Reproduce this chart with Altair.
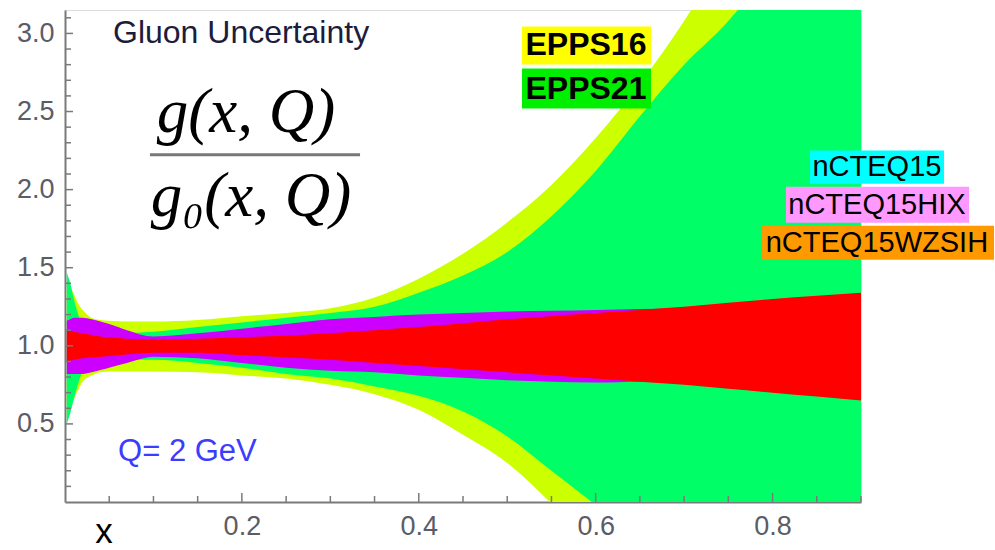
import altair as alt
import pandas as pd

# ---------------- data ----------------
x_grid = [0.002, 0.006, 0.01, 0.015, 0.02, 0.03, 0.04, 0.05, 0.07, 0.1, 0.15, 0.2, 0.25,
          0.3, 0.35, 0.4, 0.45, 0.5, 0.55, 0.6, 0.65, 0.7, 0.75, 0.8, 0.85, 0.9]

epps16_hi = [1.36, 1.37, 1.33, 1.27, 1.23, 1.18, 1.165, 1.16, 1.155, 1.155, 1.165, 1.19, 1.21,
             1.24, 1.31, 1.43, 1.59, 1.79, 2.03, 2.33, 2.68, 3.08, 3.55, 4.1, 4.7, 5.3]
epps16_lo = [0.56, 0.60, 0.66, 0.72, 0.77, 0.81, 0.83, 0.835, 0.835, 0.835, 0.83, 0.81, 0.79,
             0.75, 0.69, 0.59, 0.43, 0.25, -0.01, -0.3, -0.6, -0.9, -1.2, -1.5, -1.8, -2.1]

epps21_hi = [1.47, 1.40, 1.30, 1.20, 1.13, 1.08, 1.07, 1.07, 1.08, 1.09, 1.12, 1.15, 1.18,
             1.21, 1.25, 1.34, 1.45, 1.60, 1.83, 2.12, 2.47, 2.80, 3.08, 3.45, 4.0, 4.5]
epps21_lo = [0.50, 0.57, 0.66, 0.76, 0.84, 0.89, 0.90, 0.905, 0.91, 0.91, 0.89, 0.86, 0.82,
             0.79, 0.74, 0.68, 0.58, 0.42, 0.20, -0.02, -0.25, -0.5, -0.8, -1.1, -1.4, -1.7]

hix_hi = [1.16, 1.17, 1.18, 1.18, 1.18, 1.17, 1.155, 1.14, 1.10, 1.06, 1.08, 1.11, 1.14,
          1.17, 1.185, 1.20, 1.21, 1.22, 1.225, 1.23, 1.235, 1.24, 1.25, 1.27, 1.28, 1.30]
hix_lo = [0.82, 0.82, 0.82, 0.82, 0.82, 0.83, 0.845, 0.86, 0.89, 0.93, 0.92, 0.89, 0.86,
          0.84, 0.83, 0.81, 0.795, 0.78, 0.77, 0.765, 0.77, 0.76, 0.73, 0.71, 0.69, 0.67]

wz_hi = [1.10, 1.095, 1.09, 1.085, 1.08, 1.07, 1.06, 1.055, 1.045, 1.04, 1.045, 1.055, 1.065,
         1.08, 1.10, 1.12, 1.145, 1.17, 1.19, 1.21, 1.23, 1.25, 1.275, 1.30, 1.32, 1.34]
wz_lo = [0.90, 0.905, 0.91, 0.915, 0.92, 0.925, 0.93, 0.935, 0.945, 0.955, 0.955, 0.94, 0.925,
         0.91, 0.89, 0.87, 0.85, 0.83, 0.81, 0.79, 0.77, 0.75, 0.725, 0.70, 0.675, 0.65]

band_names = ["EPPS16", "EPPS21", "nCTEQ15HIX", "nCTEQ15WZSIH"]
band_colors = ["#ccff00", "#00ff66", "#cc00ff", "#ff0000"]
band_hi = [epps16_hi, epps21_hi, hix_hi, wz_hi]
band_lo = [epps16_lo, epps21_lo, hix_lo, wz_lo]

x_major = [0.2, 0.4, 0.6, 0.8]
x_minor = [0.05, 0.1, 0.15, 0.25, 0.3, 0.35, 0.45, 0.5, 0.55, 0.65, 0.7, 0.75, 0.85, 0.9]
y_major = [0.5, 1.0, 1.5, 2.0, 2.5, 3.0]
y_minor = [0.1, 0.2, 0.3, 0.4, 0.6, 0.7, 0.8, 0.9, 1.1, 1.2, 1.3, 1.4, 1.6, 1.7, 1.8, 1.9,
           2.1, 2.2, 2.3, 2.4, 2.6, 2.7, 2.8, 2.9, 3.1]

# legend labels with coloured boxes
leg_text = ["EPPS16", "EPPS21", "nCTEQ15", "nCTEQ15HIX", "nCTEQ15WZSIH"]
leg_bg = ["#ffff00", "#00ee00", "#00ffff", "#ff99ff", "#ff9900"]
leg_bold = ["bold", "bold", "normal", "normal", "normal"]
leg_xc = [0.589, 0.589, 0.918, 0.918, 0.918]
leg_yc = [2.923, 2.647, 2.144, 1.904, 1.660]
leg_x1 = [0.5167, 0.5167, 0.8424, 0.8152, 0.7881]
leg_x2 = [0.6626, 0.6626, 0.9939, 1.0222, 1.0504]
leg_y1 = [3.045, 2.776, 2.250, 2.019, 1.769]
leg_y2 = [2.801, 2.519, 2.038, 1.788, 1.551]

W, H = 796, 492
AX = "#7a7a7a"
XS = alt.Scale(domain=[0, 0.9], nice=False, zero=False)
YS = alt.Scale(domain=[0, 3.15], nice=False, zero=False)

x_axis = alt.Axis(values=x_major, format=".1f", ticks=False, grid=False, title=None,
                  labelFontSize=27, labelColor="#5c5c66", labelFont="Liberation Sans",
                  labelPadding=11, domainColor=AX, domainWidth=2, labelFlush=False)
y_axis = alt.Axis(values=y_major, format=".1f", ticks=False, grid=False, title=None,
                  labelFontSize=27, labelColor="#5c5c66", labelFont="Liberation Sans",
                  labelPadding=11, domainColor=AX, domainWidth=2, labelFlush=False)


def X(f):
    return alt.X(f, scale=XS, axis=x_axis)


def Y(f):
    return alt.Y(f, scale=YS, axis=y_axis)


layers = []
for i, (name, col) in enumerate(zip(band_names, band_colors)):
    df = pd.DataFrame({"x": x_grid, "lo": band_lo[i], "hi": band_hi[i]})
    layers.append(
        alt.Chart(df).mark_area(color=col, clip=True, interpolate="monotone", opacity=1).encode(
            x=X("x:Q"), y=Y("hi:Q"), y2="lo:Q",
        )
    )

# inward ticks
ym = pd.DataFrame({"v": y_major})
yn = pd.DataFrame({"v": y_minor})
xm = pd.DataFrame({"v": x_major})
xn = pd.DataFrame({"v": x_minor})
layers.append(alt.Chart(ym).mark_rule(color=AX, strokeWidth=1.5).encode(
    y=Y("v:Q"), x=alt.value(0), x2=alt.value(8)))
layers.append(alt.Chart(yn).mark_rule(color=AX, strokeWidth=1.5).encode(
    y=Y("v:Q"), x=alt.value(0), x2=alt.value(6)))
layers.append(alt.Chart(xm).mark_rule(color=AX, strokeWidth=1.5).encode(
    x=X("v:Q"), y=alt.value(H), y2=alt.value(H - 9)))
layers.append(alt.Chart(xn).mark_rule(color=AX, strokeWidth=1.5).encode(
    x=X("v:Q"), y=alt.value(H), y2=alt.value(H - 6)))

# legend boxes + text
leg = pd.DataFrame({"t": leg_text, "bg": leg_bg, "w": leg_bold, "xc": leg_xc, "yc": leg_yc,
                    "x1": leg_x1, "x2": leg_x2, "y1": leg_y1, "y2": leg_y2})
layers.append(alt.Chart(leg).mark_rect().encode(
    x=X("x1:Q"), x2="x2:Q", y=Y("y1:Q"), y2="y2:Q",
    color=alt.Color("bg:N", scale=None)))
layers.append(alt.Chart(leg[leg.w == "bold"]).mark_text(
    font="Liberation Sans", fontSize=32, fontWeight="bold", color="black",
    align="center", baseline="middle").encode(x=X("xc:Q"), y=Y("yc:Q"), text="t:N"))
layers.append(alt.Chart(leg[leg.w == "normal"]).mark_text(
    font="Liberation Sans", fontSize=29, color="black",
    align="center", baseline="middle").encode(x=X("xc:Q"), y=Y("yc:Q"), text="t:N"))

# other annotations
ann = pd.DataFrame({
    "t": ["Gluon Uncertainty", "Q= 2 GeV"],
    "x": [0.0543, 0.060], "y": [3.0, 0.32],
    "c": ["#1c1c3c", "#3c3cff"],
    "s": [32, 31],
})
layers.append(alt.Chart(ann).mark_text(font="Liberation Sans", align="left",
                                       baseline="middle").encode(
    x=X("x:Q"), y=Y("y:Q"), text="t:N", color=alt.Color("c:N", scale=None),
    size=alt.Size("s:Q", scale=None)))

frac = pd.DataFrame({"t": ["g(x, Q)", "g\u2080(x, Q)"], "x": [0.2047, 0.2103], "y": [2.49, 1.955]})
layers.append(alt.Chart(frac).mark_text(font="Liberation Serif", fontSize=63, fontStyle="italic",
                                        color="black", align="center", baseline="middle").encode(
    x=X("x:Q"), y=Y("y:Q"), text="t:N"))
bar = pd.DataFrame({"x1": [0.0961], "x2": [0.3336], "y": [2.224]})
layers.append(alt.Chart(bar).mark_rule(color="#777777", strokeWidth=3).encode(
    x=X("x1:Q"), x2="x2:Q", y=Y("y:Q")))

xl = pd.DataFrame({"t": ["x"], "x": [0.044], "y": [-0.195]})
layers.append(alt.Chart(xl).mark_text(font="Liberation Sans", fontSize=35, color="black",
                                      align="center", baseline="middle").encode(
    x=X("x:Q"), y=Y("y:Q"), text="t:N"))

chart = alt.layer(*layers).properties(
    width=W, height=H,
    autosize=alt.AutoSizeParams(type="none"),
    padding={"left": 65, "top": 10, "right": 134, "bottom": 48},
).configure_view(stroke=None).configure(background="white")

chart.save("out.html", embed_options={"renderer": "svg", "actions": False})
